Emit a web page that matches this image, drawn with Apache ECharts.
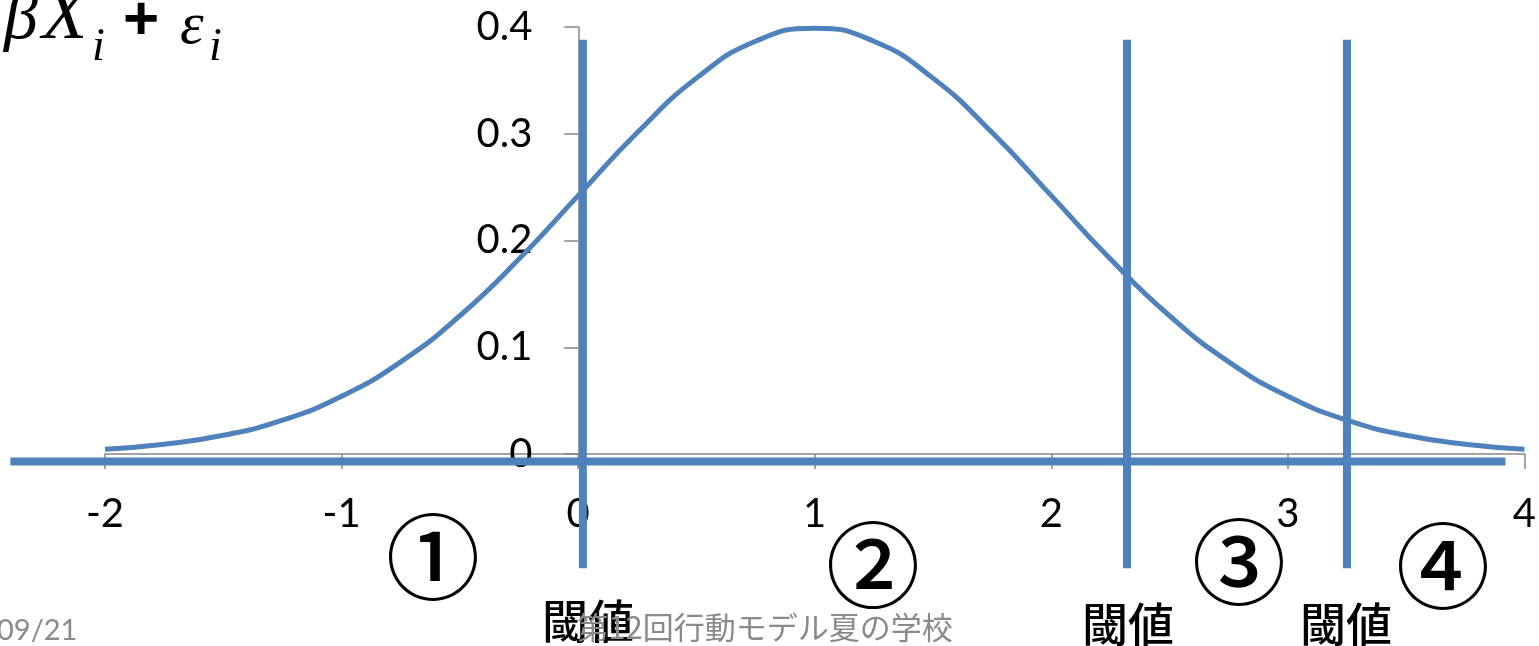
<!DOCTYPE html>
<html>
<head>
<meta charset="utf-8">
<script src="https://cdn.jsdelivr.net/npm/echarts@6/dist/echarts.min.js"></script>
<style>
  html, body { margin: 0; padding: 0; background: #fff; }
  #main { width: 1539px; height: 646px; }
</style>
</head>
<body>
<div id="main"></div>
<script>
// x values of the density curve and the density
const xs = [-2, -1.75, -1.5, -1.25, -1, -0.75, -0.5, -0.25, 0, 0.25, 0.5, 0.75, 1,
            1.25, 1.5, 1.75, 2, 2.25, 2.5, 2.75, 3, 3.25, 3.5, 3.75, 4];
const density = [0.0044, 0.0091, 0.0175, 0.0317, 0.054, 0.0863, 0.1295, 0.1826, 0.242,
                 0.3011, 0.3521, 0.3867, 0.3989, 0.3867, 0.3521, 0.3011, 0.242, 0.1826,
                 0.1295, 0.0863, 0.054, 0.0317, 0.0175, 0.0091, 0.0044];
// threshold lines (x positions) and their vertical extent
const thresholds = [0.02, 2.32, 3.25];
const thresholdSpan = [-0.107, 0.388];
// the thick base line drawn over the x axis
const baseSpan = [-2.4, 3.92];
const baseY = -0.007;
const xTicks = { min: -2, max: 4, step: 1 };
const yTicks = { min: 0, max: 0.4, step: 0.1 };

const blue = "#4F81BD";
const axisGrey = "#868686";
const latin = "Lato, 'Open Sans', sans-serif";
const jp = "'Noto Sans CJK JP', sans-serif";

const gridLeft = 105, gridWidth = 1420;
// y axis sits where x = 0
const yAxisShift = ((0 - xTicks.min) / (xTicks.max - xTicks.min)) * gridWidth;

let chart = echarts.init(document.getElementById("main"));

// segments [x1, y1, x2, y2] for the overlay strokes
let segments = [[baseSpan[0], baseY, baseSpan[1], baseY]];
thresholds.forEach((t) => segments.push([t, thresholdSpan[0], t, thresholdSpan[1]]));

let series = [
  {
    type: "line",
    data: xs.map((x, i) => [x, density[i]]),
    smooth: true,
    showSymbol: false,
    symbol: "none",
    lineStyle: { color: blue, width: 5 },
    z: 3,
  },
  {
    type: "custom",
    data: segments,
    clip: false,
    z: 5,
    renderItem: (params, api) => {
      let p1 = api.coord([api.value(0), api.value(1)]);
      let p2 = api.coord([api.value(2), api.value(3)]);
      return {
        type: "line",
        shape: { x1: p1[0], y1: p1[1], x2: p2[0], y2: p2[1] },
        style: { stroke: blue, lineWidth: 8, lineCap: "butt" },
      };
    },
  },
];

function txt(text, x, y, size, opts) {
  return {
    type: "text",
    x: x,
    y: y,
    z: 10,
    style: Object.assign({
      text: text,
      fontSize: size,
      fontFamily: jp,
      fill: "#000",
      align: "center",
      verticalAlign: "middle",
    }, opts || {}),
  };
}

let serif = { fontFamily: "'Liberation Serif', 'DejaVu Serif', serif", fontStyle: "italic", align: "left" };
let circled = { fontWeight: 500 };

let option = {
  animation: false,
  backgroundColor: "#fff",
  grid: { left: gridLeft, top: 27, width: gridWidth, height: 427, containLabel: false },
  xAxis: {
    type: "value",
    min: xTicks.min,
    max: xTicks.max,
    interval: xTicks.step,
    axisLine: { show: true, onZero: false, lineStyle: { color: axisGrey, width: 1.5 } },
    axisTick: { show: true, length: 15, lineStyle: { color: axisGrey, width: 1.5 } },
    axisLabel: { margin: 40, fontSize: 40, color: "#000", fontFamily: latin },
    splitLine: { show: false },
  },
  yAxis: {
    type: "value",
    position: "left",
    offset: -yAxisShift,
    min: yTicks.min,
    max: yTicks.max,
    interval: yTicks.step,
    axisLine: { show: true, onZero: false, lineStyle: { color: axisGrey, width: 1.5 } },
    axisTick: { show: true, length: 14, lineStyle: { color: axisGrey, width: 1.5 } },
    axisLabel: { margin: 46, fontSize: 40, color: "#000", fontFamily: latin },
    splitLine: { show: false },
  },
  series: series,
  graphic: [
    // βX_i + ε_i
    txt("β", 4, 20, 68, serif),
    txt("X", 42, 19, 74, serif),
    txt("i", 92, 48, 46, serif),
    txt("+", 141, 22, 62, { fontFamily: "'Liberation Sans', sans-serif", fontWeight: "bold" }),
    txt("ε", 180, 27, 60, serif),
    txt("i", 209, 48, 46, serif),
    // region numbers
    txt("①", 433, 557, 94, circled),
    txt("②", 873, 565, 94, circled),
    txt("③", 1239, 562, 94, circled),
    txt("④", 1443, 566, 94, circled),
    // threshold labels
    txt("閾値", 588, 621, 46, { fontWeight: 500 }),
    txt("閾値", 1128, 624, 46, { fontWeight: 500 }),
    txt("閾値", 1346, 624, 46, { fontWeight: 500 }),
    // footer
    txt("第12回行動モデル夏の学校", 765, 627, 31, { fill: "#8a8a8a", z: 1 }),
    txt("09/21", -3, 631, 29, { fill: "#8a8a8a", fontFamily: latin, align: "left" }),
  ],
};
chart.setOption(option);
</script>
</body>
</html>
